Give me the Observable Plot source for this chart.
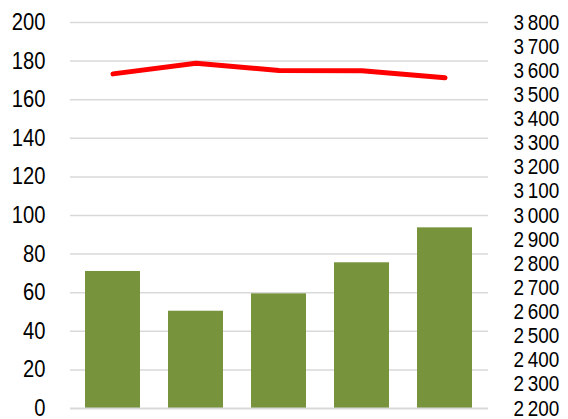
<!DOCTYPE html>
<html>
<head>
<meta charset="utf-8">
<script src="https://cdn.jsdelivr.net/npm/d3@7"></script>
<script src="https://cdn.jsdelivr.net/npm/@observablehq/plot@0.6"></script>
<style>
  html, body { margin: 0; padding: 0; background: #fff; }
  #chart svg { display: block; }
</style>
</head>
<body>
<div id="chart"></div>
<script>
const categories = ["1", "2", "3", "4", "5"];
const barValues = [71, 50.4, 59.4, 75.5, 93.6];
const lineValues = [3587, 3631, 3601, 3600, 3571];
const leftTicks = [0, 20, 40, 60, 80, 100, 120, 140, 160, 180, 200];
const rightTicks = [2200, 2300, 2400, 2500, 2600, 2700, 2800, 2900, 3000, 3100, 3200, 3300, 3400, 3500, 3600, 3700, 3800];

const rMin = 2200, rMax = 3800, lMax = 200;
const toLeft = v => (v - rMin) / (rMax - rMin) * lMax;
const fromLeft = t => rMin + t / lMax * (rMax - rMin);

const bars = categories.map((c, i) => ({cat: c, value: barValues[i]}));
const line = categories.map((c, i) => ({cat: c, value: toLeft(lineValues[i])}));

const fmtSpace = v => {
  const s = String(Math.round(v));
  return s.replace(/\B(?=(\d{3})+(?!\d))/g, "\u2009");
};

const font = "'Liberation Sans', Arial, sans-serif";

const chart = Plot.plot({
  width: 568,
  height: 419,
  marginLeft: 70,
  marginRight: 80,
  marginTop: 22,
  marginBottom: 11,
  style: {fontFamily: font, background: "#fff", color: "#000"},
  x: {domain: categories, paddingInner: 0.333, paddingOuter: 0.1665, axis: null},
  y: {domain: [0, lMax], axis: null},
  marks: [
    Plot.gridY(leftTicks.filter(d => d > 0), {stroke: "#d9d9d9", strokeOpacity: 1, strokeWidth: 1.5}),
    Plot.barY(bars, {x: "cat", y: "value", fill: "#77933c"}),
    Plot.ruleY([0], {stroke: "#d9d9d9", strokeWidth: 2}),
    Plot.line(line, {x: "cat", y: "value", stroke: "#ff0000", strokeWidth: 5, strokeLinecap: "round", strokeLinejoin: "round"}),
    Plot.axisY(leftTicks, {anchor: "left", label: null, tickSize: 0, tickPadding: 25, fontSize: 23.5, tickFormat: d => String(d), fill: "#000"}),
    Plot.axisY(rightTicks.map(toLeft), {anchor: "right", label: null, tickSize: 0, tickPadding: 25, fontSize: 22, textAnchor: "start", tickFormat: t => fmtSpace(fromLeft(t)), fill: "#000"})
  ]
});
// condense the axis labels horizontally (reference uses a narrow face)
d3.select(chart).selectAll("text").each(function() {
  const t = this.getAttribute("transform") || "";
  this.setAttribute("transform", t + " scale(0.86,1)");
});
document.getElementById("chart").appendChild(chart);
</script>
</body>
</html>
